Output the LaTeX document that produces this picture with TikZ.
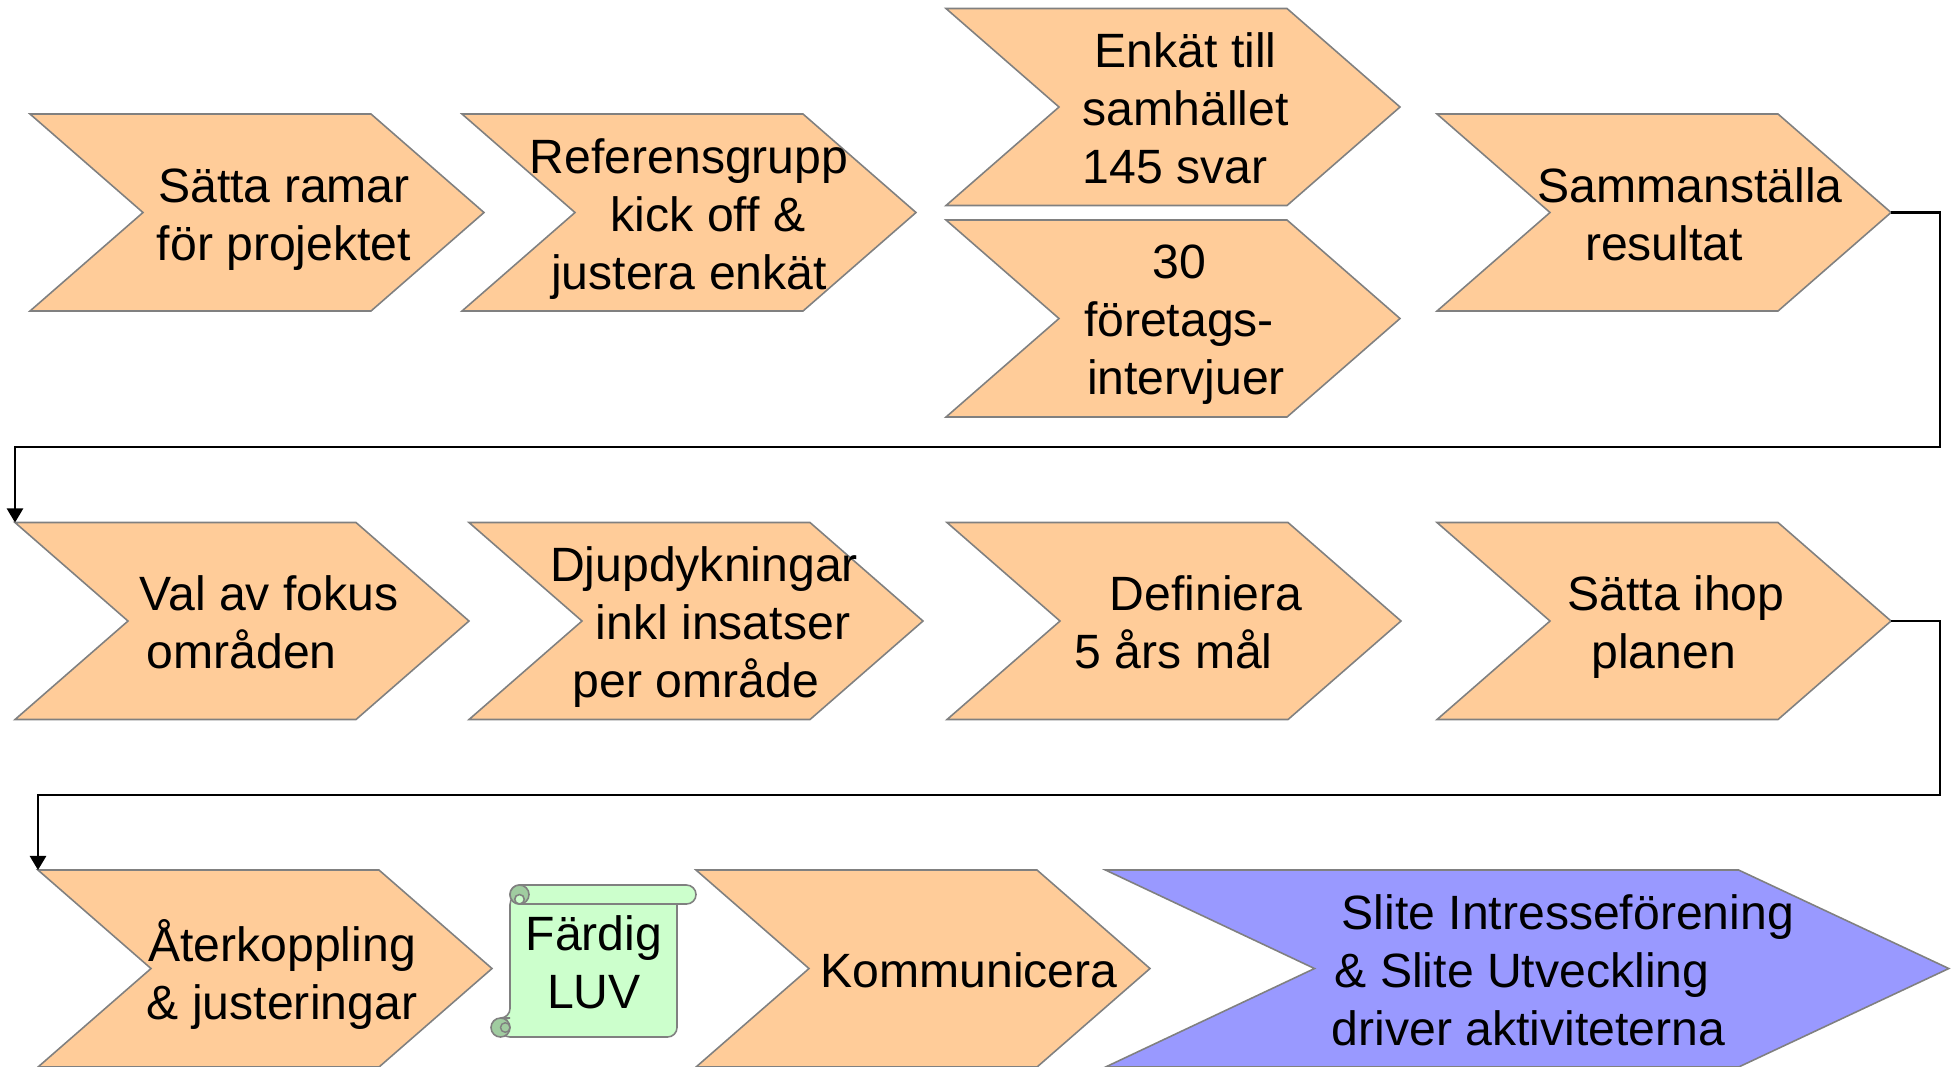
\documentclass[tikz,border=0pt]{standalone}
\usepackage{fontspec}
\setmainfont{Liberation Sans}
\usetikzlibrary{arrows.meta}
\definecolor{chevorange}{RGB}{255,204,153}
\definecolor{chevblue}{RGB}{153,153,255}
\definecolor{scrollgreen}{RGB}{204,255,204}
\definecolor{scrolldark}{RGB}{160,204,160}
\definecolor{edgegrey}{RGB}{128,128,128}

\tikzset{
  chev/.style={fill=chevorange, draw=edgegrey, line width=0.45pt},
  pics/chevron/.style={code={
    \draw[chev] (0,0) -- (341,0) -- (454,98.5) -- (341,197) -- (0,197) -- (113,98.5) -- cycle;
    \coordinate (-tl) at (0,0);
    \coordinate (-tip) at (454,98.5);
  }},
  lbl/.style={font=\fontsize{13.7}{16.5}\selectfont, inner sep=0pt, align=center,
    execute at begin node=\strut, execute at end node=\strut},
  scrollpart/.style={fill=scrollgreen, draw=edgegrey, line width=0.45pt},
  link/.style={draw=black, line width=0.6pt, -{Triangle[length=4pt,width=4.6pt]}},
}

\begin{document}
\begin{tikzpicture}[x=0.1mm, y=-0.1mm]
\useasboundingbox (0,0) rectangle (1956,1066);

% row 1
\pic (ramar) at (30,114) {chevron};
\pic (refgrupp) at (462,114) {chevron};
\pic (enkat) at (946,8.5) {chevron};
\pic (intervju) at (946,220) {chevron};
\pic (samman) at (1437,114) {chevron};
\node[lbl] (ramar-lbl) at (284,223) {Sätta ramar\\för projektet};
\node[lbl] (refgrupp-lbl) at (689,223) {Referensgrupp\\\hspace*{0.38cm}kick off \&\\justera enkät};
\node[lbl, align=left, anchor=west] (enkat-lbl) at (1082,117) {\hspace*{0.12cm}Enkät till\\samhället\\145 svar};
\node[lbl] (intervju-lbl) at (1179,328) {30\\företags-\hspace*{0.14cm}\\\hspace*{0.14cm}intervjuer};
\node[lbl] (samman-lbl) at (1690,223) {Sammanställa\\resultat\hspace*{0.52cm}};

% row 2
\pic (fokus) at (15,522.5) {chevron};
\pic (djup) at (469,522.5) {chevron};
\pic (definiera) at (947,522.5) {chevron};
\pic (ihop) at (1437,522.5) {chevron};
\node[lbl, align=left, anchor=west] (fokus-lbl) at (139,631) {Val av fokus\\\hspace*{0.07cm}områden};
\node[lbl] (djup-lbl) at (704,631) {Djupdykningar\\\hspace*{0.38cm}inkl insatser\\per område\hspace*{0.16cm}};
\node[lbl, align=left, anchor=west] (definiera-lbl) at (1074,631) {\hspace*{0.35cm}Definiera\\5 års mål};
\node[lbl] (ihop-lbl) at (1676,631) {Sätta ihop\\planen\hspace*{0.25cm}};

% row 3
\pic (ater) at (38,870) {chevron};
\pic (komm) at (696,870) {chevron};
\draw[chev, fill=chevblue] (1105.5,870) -- (1738.6,870) -- (1948.8,968.5) -- (1738.6,1067) -- (1105.5,1067) -- (1314.5,968.5) -- cycle;
\node[lbl] (ater-lbl) at (282,978) {Återkoppling\\\& justeringar};
\node[lbl] (komm-lbl) at (969,976) {Kommunicera};
\node[lbl, align=left, anchor=west] (slite-lbl) at (1331,979) {\hspace*{0.1cm}Slite Intresseförening\\\hspace*{0.03cm}\& Slite Utveckling\\driver aktiviteterna};

% scroll
\draw[scrollpart, rounded corners=0.95mm] (510,895) -- (677,895) -- (677,1037) -- (500.5,1037) -- (500.5,1018) -- (510,1018) -- cycle;
\draw[scrollpart, fill=scrolldark] (500.5,1027.5) circle[radius=9.5];
\draw[edgegrey, line width=0.4pt] (505.25,1027.5) circle[radius=4.75];
\draw[scrollpart, rounded corners=0.95mm] (510,885) rectangle (696,904);
\draw[scrollpart, fill=scrolldark] (519.5,894.5) circle[radius=9.5];
\draw[scrollpart] (519.5,899.25) circle[radius=4.75];
\node[lbl] (luv-lbl) at (594,971) {Färdig\\LUV};

% connectors
\draw[link] (samman-tip) -| (1940,447) -| (fokus-tl);
\draw[link] (ihop-tip) -| (1940,795) -| (ater-tl);
\end{tikzpicture}
\end{document}
